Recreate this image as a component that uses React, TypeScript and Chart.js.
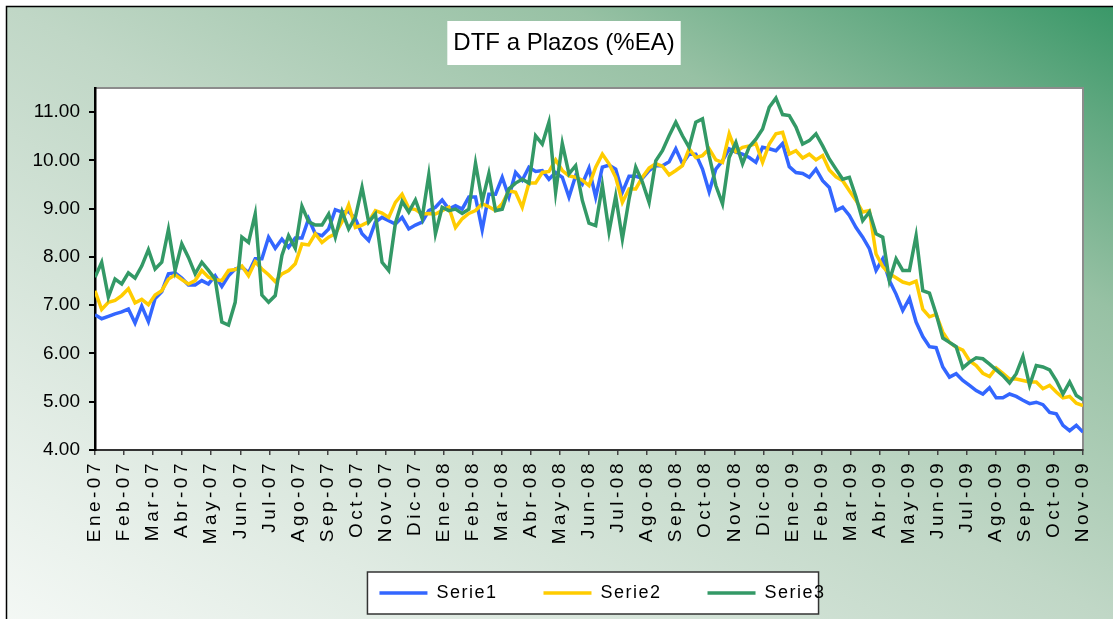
import React, { useEffect, useRef } from 'react';
import { Chart, registerables } from 'chart.js';

Chart.register(...registerables);

const FONT = '"Liberation Sans", Arial, sans-serif';

const chartTitle = 'DTF a Plazos (%EA)';

const monthLabels = [
  'Ene-07', 'Feb-07', 'Mar-07', 'Abr-07', 'May-07', 'Jun-07', 'Jul-07', 'Ago-07', 'Sep-07', 'Oct-07', 'Nov-07', 'Dic-07',
  'Ene-08', 'Feb-08', 'Mar-08', 'Abr-08', 'May-08', 'Jun-08', 'Jul-08', 'Ago-08', 'Sep-08', 'Oct-08', 'Nov-08', 'Dic-08',
  'Ene-09', 'Feb-09', 'Mar-09', 'Abr-09', 'May-09', 'Jun-09', 'Jul-09', 'Ago-09', 'Sep-09', 'Oct-09', 'Nov-09',
];

const yTickValues = [4, 5, 6, 7, 8, 9, 10, 11];
const yTickLabels = ['4.00', '5.00', '6.00', '7.00', '8.00', '9.00', '10.00', '11.00'];

const seriesNames = ['Serie1', 'Serie2', 'Serie3'];
const seriesColors = ['#3366FF', '#FFCC00', '#339966'];

// weekly observations, Ene-07 .. Nov-09
const serie1 = [
  6.80, 6.72, 6.77, 6.82, 6.86, 6.92, 6.63, 6.98, 6.66, 7.14, 7.28, 7.65, 7.67, 7.56, 7.42, 7.42, 7.51, 7.44, 7.61, 7.39, 7.61, 7.75, 7.79, 7.67, 7.96,
  7.96, 8.41, 8.18, 8.37, 8.20, 8.39, 8.39, 8.79, 8.48, 8.44, 8.58, 8.98, 8.93, 8.94, 8.79, 8.48, 8.34, 8.72, 8.82, 8.75, 8.68, 8.82, 8.58, 8.66, 8.72,
  8.96, 9.03, 9.18, 8.99, 9.06, 8.99, 9.24, 9.24, 8.56, 9.30, 9.30, 9.65, 9.24, 9.75, 9.59, 9.86, 9.77, 9.79, 9.61, 9.75, 9.65, 9.24, 9.68, 9.51, 9.84,
  9.24, 9.86, 9.90, 9.82, 9.34, 9.67, 9.67, 9.63, 9.79, 9.89, 9.89, 9.97, 10.24, 9.93, 10.13, 10.13, 9.82, 9.35, 9.82, 9.99, 10.24, 10.17, 10.13, 10.06,
  9.96, 10.27, 10.24, 10.20, 10.35, 9.87, 9.75, 9.73, 9.65, 9.82, 9.58, 9.44, 8.96, 9.03, 8.86, 8.61, 8.41, 8.17, 7.72, 7.96, 7.51, 7.23,
  6.89, 7.14, 6.65, 6.35, 6.14, 6.12, 5.72, 5.51, 5.58, 5.44, 5.34, 5.23, 5.16, 5.29, 5.08, 5.08, 5.16, 5.11, 5.03, 4.96, 4.99, 4.94, 4.78, 4.75, 4.51, 4.40, 4.51, 4.37,
];

const serie2 = [
  7.30, 6.91, 7.06, 7.10, 7.20, 7.34, 7.05, 7.12, 7.01, 7.21, 7.30, 7.54, 7.63, 7.53, 7.44, 7.51, 7.72, 7.58, 7.53, 7.51, 7.72, 7.74, 7.81, 7.61, 7.90,
  7.75, 7.63, 7.49, 7.65, 7.72, 7.86, 8.27, 8.25, 8.48, 8.30, 8.41, 8.48, 8.73, 9.08, 8.61, 8.66, 8.73, 8.96, 8.91, 8.82, 9.13, 9.30, 9.01, 8.98, 8.89,
  8.90, 8.89, 8.96, 9.03, 8.61, 8.79, 8.90, 8.96, 9.10, 9.04, 8.96, 9.10, 9.37, 9.34, 9.03, 9.53, 9.53, 9.75, 9.77, 10.01, 9.79, 9.68, 9.65, 9.59, 9.48,
  9.86, 10.13, 9.93, 9.65, 9.13, 9.41, 9.41, 9.65, 9.84, 9.93, 9.88, 9.70, 9.79, 9.89, 10.24, 10.06, 10.10, 10.24, 10.01, 9.96, 10.55, 10.18, 10.27, 10.30,
  10.35, 9.96, 10.34, 10.55, 10.58, 10.13, 10.20, 10.05, 10.13, 10.01, 10.10, 9.80, 9.66, 9.58, 9.37, 9.17, 8.93, 8.96, 8.06, 7.80, 7.65, 7.57, 7.48, 7.44, 7.50,
  6.92, 6.76, 6.81, 6.44, 6.23, 6.13, 6.07, 5.85, 5.75, 5.59, 5.52, 5.70, 5.59, 5.47, 5.47, 5.44, 5.41, 5.41, 5.27, 5.34, 5.20, 5.08, 5.11, 4.97, 4.92,
];

const serie3 = [
  7.58, 7.89, 7.17, 7.54, 7.44, 7.67, 7.56, 7.81, 8.15, 7.75, 7.89, 8.57, 7.72, 8.27, 7.99, 7.65, 7.89, 7.72, 7.54, 6.65, 6.59, 7.06, 8.41, 8.30, 8.89,
  7.21, 7.06, 7.20, 8.03, 8.44, 8.18, 9.05, 8.73, 8.66, 8.66, 8.89, 8.41, 8.94, 8.58, 8.82, 9.44, 8.72, 8.89, 7.89, 7.72, 8.70, 9.15, 8.93, 9.18, 8.80,
  9.70, 8.48, 9.03, 8.96, 8.99, 8.90, 8.99, 9.94, 9.15, 9.73, 8.96, 8.99, 9.41, 9.53, 9.61, 9.53, 10.51, 10.34, 10.79, 9.34, 10.35, 9.72, 9.89, 9.17, 8.70,
  8.65, 9.48, 8.52, 9.26, 8.37, 9.20, 9.86, 9.55, 9.13, 9.99, 10.20, 10.51, 10.79, 10.51, 10.27, 10.79, 10.86, 10.10, 9.48, 9.10, 10.06, 10.37, 9.93, 10.28,
  10.44, 10.65, 11.10, 11.29, 10.95, 10.93, 10.69, 10.34, 10.41, 10.55, 10.30, 10.03, 9.82, 9.61, 9.65, 9.24, 8.75, 8.93, 8.48, 8.41, 7.51, 7.96, 7.72, 7.72, 8.44,
  7.30, 7.25, 6.82, 6.32, 6.23, 6.14, 5.70, 5.82, 5.91, 5.89, 5.78, 5.66, 5.54, 5.39, 5.58, 5.94, 5.34, 5.75, 5.72, 5.66, 5.44, 5.16, 5.41, 5.13, 5.04,
];

function toPoints(values: number[]) {
  const span = monthLabels.length - 1;
  return values.map((y, i) => ({ x: (i * span) / (values.length - 1), y }));
}

const decorPlugin = {
  id: 'decor',
  beforeDraw(chart: any) {
    const { ctx, width, height, chartArea: a } = chart;
    ctx.save();
    ctx.fillStyle = '#ffffff';
    ctx.fillRect(0, 0, width, height);
    const g = ctx.createLinearGradient(293, 783, 819, -163);
    g.addColorStop(0, '#f4f8f5');
    g.addColorStop(0.2, '#e0ebe3');
    g.addColorStop(0.5, '#c0d7c6');
    g.addColorStop(0.75, '#97c1a4');
    g.addColorStop(0.9, '#60a880');
    g.addColorStop(1, '#389767');
    ctx.fillStyle = g;
    ctx.fillRect(7, 7, width - 7, height - 7);
    ctx.strokeStyle = '#000';
    ctx.lineWidth = 1.5;
    ctx.beginPath();
    ctx.moveTo(6.5, height);
    ctx.lineTo(6.5, 6.5);
    ctx.lineTo(width, 6.5);
    ctx.stroke();

    ctx.fillStyle = '#ffffff';
    ctx.fillRect(a.left, a.top, a.right - a.left, a.bottom - a.top);
    ctx.strokeStyle = '#8c8c8c';
    ctx.lineWidth = 2;
    ctx.strokeRect(a.left, a.top, a.right - a.left, a.bottom - a.top);

    const hb = chart.legend && chart.legend.legendHitBoxes;
    if (hb && hb.length) {
      const first = hb[0];
      const last = hb[hb.length - 1];
      const x0 = first.left - 12;
      const x1 = last.left + last.width + 20;
      const cy = first.top + first.height / 2;
      ctx.fillStyle = '#ffffff';
      ctx.fillRect(x0, cy - 21, x1 - x0, 42);
      ctx.strokeStyle = '#333';
      ctx.lineWidth = 1.5;
      ctx.strokeRect(x0, cy - 21, x1 - x0, 42);
    }
    ctx.restore();

    // letter spacing for x tick labels and legend text; no clipping of the rotated labels
    const sx = chart.scales.x;
    if (sx && !sx.__ls) {
      const orig = sx.drawLabels;
      sx._computeLabelArea = () => undefined;
      sx.drawLabels = function (area: any) {
        const c = this.ctx;
        c.letterSpacing = '3.5px';
        orig.call(this, area);
        c.letterSpacing = '0px';
      };
      sx.__ls = true;
    }
    const lg = chart.legend;
    if (lg && !lg.__ls) {
      const origL = lg.draw;
      lg.draw = function (area: any) {
        const c = this.ctx;
        c.letterSpacing = '1.5px';
        origL.call(this, area);
        c.letterSpacing = '0px';
      };
      lg.__ls = true;
    }
  },
  afterDraw(chart: any) {
    const { ctx } = chart;
    ctx.save();
    ctx.font = `24px ${FONT}`;
    const w = ctx.measureText(chartTitle).width;
    const cx = 564;
    const cy = 43;
    ctx.fillStyle = '#ffffff';
    ctx.fillRect(cx - w / 2 - 6, cy - 22, w + 12, 44);
    ctx.fillStyle = '#000';
    ctx.textAlign = 'center';
    ctx.textBaseline = 'middle';
    ctx.fillText(chartTitle, cx, cy);
    ctx.restore();
  },
};

export default function App() {
  const ref = useRef<HTMLCanvasElement>(null);
  useEffect(() => {
    if (!ref.current) return;
    const seriesData = [serie1, serie2, serie3];
    const chart = new Chart(ref.current, {
      type: 'line',
      data: {
        datasets: seriesData.map((vals, k) => ({
          label: seriesNames[k],
          data: toPoints(vals),
          borderColor: seriesColors[k],
          backgroundColor: seriesColors[k],
          borderWidth: 3.5,
          pointRadius: 0,
          tension: 0,
          order: 3 - k,
        })),
      },
      options: {
        animation: false,
        responsive: false,
        devicePixelRatio: 1,
        layout: { padding: { top: 88, right: 30, bottom: 7, left: 0 } },
        font: { family: FONT },
        scales: {
          x: {
            type: 'linear',
            min: 0,
            max: monthLabels.length - 1,
            afterBuildTicks: (s: any) => {
              s.ticks = monthLabels.map((_, i) => ({ value: i }));
            },
            afterFit: (s: any) => {
              s.height = 88;
            },
            ticks: {
              autoSkip: false,
              minRotation: 90,
              maxRotation: 90,
              padding: 5,
              color: '#000',
              font: { family: FONT, size: 19 },
              callback: (v: any) => monthLabels[Math.round(Number(v))] ?? '',
            },
            grid: { drawOnChartArea: false, tickLength: 5, color: '#444', lineWidth: 1.5 },
            border: { color: '#333', width: 2 },
          },
          y: {
            type: 'linear',
            min: 4,
            max: 11.5,
            afterBuildTicks: (s: any) => {
              s.ticks = yTickValues.map((v) => ({ value: v }));
            },
            afterFit: (s: any) => {
              s.width = 95;
            },
            ticks: {
              padding: 9,
              color: '#000',
              font: { family: FONT, size: 19 },
              callback: (v: any) => yTickLabels[yTickValues.indexOf(Number(v))] ?? '',
            },
            grid: { drawOnChartArea: false, tickLength: 6, color: '#000', lineWidth: 2 },
            border: { color: '#000', width: 2.5 },
          },
        },
        plugins: {
          title: { display: false },
          tooltip: { enabled: false },
          legend: {
            position: 'bottom',
            fullSize: false,
            labels: {
              usePointStyle: true,
              pointStyle: 'line',
              pointStyleWidth: 48,
              padding: 46,
              color: '#000',
              font: { family: FONT, size: 18 },
              sort: (a: any, b: any) => a.datasetIndex - b.datasetIndex,
            },
          },
        },
      },
      plugins: [decorPlugin],
    } as any);
    return () => chart.destroy();
  }, []);
  return (
    <div style={{ position: 'absolute', left: 0, top: 0, width: 1113, height: 619 }}>
      <canvas ref={ref} width={1113} height={619} style={{ display: 'block' }} />
    </div>
  );
}
